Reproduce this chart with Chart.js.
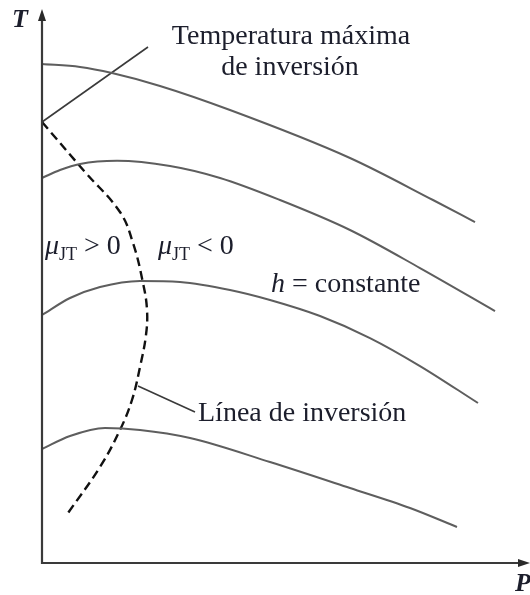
<!DOCTYPE html>
<html>
<head>
<meta charset="utf-8">
<script src="https://cdn.jsdelivr.net/npm/chart.js@4"></script>
<style>
  html, body { margin: 0; padding: 0; background: #fff; }
  canvas { display: block; }
</style>
</head>
<body>
<canvas id="c" width="530" height="595"></canvas>
<script>
// Isenthalpic curves on a T–P diagram (schematic units 0–100 on both axes)
const h1P = [0, 7.79, 14.34, 24.18, 38.52, 63.11, 80.12, 88.73];
const h1T = [90.89, 90.35, 89.25, 86.89, 82.51, 73.77, 66.12, 62.11];

const h2P = [0, 3.69, 7.79, 15.37, 26.23, 36.48, 48.77, 63.11, 77.46, 92.83];
const h2T = [70.13, 71.58, 72.68, 73.25, 72.31, 70.13, 66.12, 60.66, 53.73, 45.90];

const h3P = [0, 5.74, 11.89, 20.08, 28.28, 38.52, 46.72, 56.97, 67.21, 77.46, 89.34];
const h3T = [45.17, 48.27, 50.27, 51.37, 51.18, 49.73, 47.91, 44.99, 40.98, 35.88, 29.14];

const h4P = [0, 5.74, 12.91, 20.08, 30.33, 46.72, 63.11, 75.41, 85.04];
const h4T = [20.77, 23.13, 24.59, 24.23, 22.77, 18.40, 13.66, 10.02, 6.56];

// Inversion line (locus of the maxima), from the maximum inversion temperature downwards
const invP = [0, 8.81, 15.98, 18.65, 20.70, 21.52, 21.31, 20.08, 18.44, 15.98, 11.89, 5.33];
const invT = [80.33, 71.22, 63.93, 58.29, 51.00, 46.08, 41.53, 35.70, 29.69, 24.23, 17.49, 9.11];

// Leader lines for the annotations
const leaderMaxP = [0, 21.72];
const leaderMaxT = [80.33, 93.99];
const leaderInvP = [19.67, 31.35];
const leaderInvT = [32.24, 27.50];

// Text
const axisLabelT = 'T';
const axisLabelP = 'P';
const noteMaxTemp = ['Temperatura máxima', 'de inversión'];
const noteInvLine = 'Línea de inversión';
const noteEnthalpy = ['h', ' = constante'];
const muPositive = ' > 0';
const muNegative = ' < 0';

const pts = (xs, ys) => xs.map((x, i) => ({ x, y: ys[i] }));

const curveStyle = {
  showLine: true, borderColor: '#5e5e5e', borderWidth: 2,
  pointRadius: 0, cubicInterpolationMode: 'monotone', fill: false, clip: false
};

const datasets = [
  { ...curveStyle, data: pts(h1P, h1T) },
  { ...curveStyle, data: pts(h2P, h2T) },
  { ...curveStyle, data: pts(h3P, h3T) },
  { ...curveStyle, data: pts(h4P, h4T) },
  { showLine: true, borderColor: '#111', borderWidth: 2.4, borderDash: [9, 5],
    pointRadius: 0, tension: 0.4, fill: false, clip: false, data: pts(invP, invT) },
  { showLine: true, borderColor: '#3a3a3a', borderWidth: 1.6, pointRadius: 0,
    tension: 0, clip: false, data: pts(leaderMaxP, leaderMaxT) },
  { showLine: true, borderColor: '#3a3a3a', borderWidth: 1.6, pointRadius: 0,
    tension: 0, clip: false, data: pts(leaderInvP, leaderInvT) }
];

// Axes with arrowheads
const axesPlugin = {
  id: 'arrowAxes',
  afterDatasetsDraw(chart) {
    const { ctx, scales: { x, y } } = chart;
    const x0 = x.getPixelForValue(0), y0 = y.getPixelForValue(0);
    const xEnd = x.getPixelForValue(100), yEnd = y.getPixelForValue(100) - 5;
    ctx.save();
    ctx.strokeStyle = '#3a3a3a';
    ctx.fillStyle = '#2a2a2a';
    ctx.lineWidth = 2.2;
    ctx.beginPath();
    ctx.moveTo(x0, yEnd + 6);
    ctx.lineTo(x0, y0);
    ctx.lineTo(xEnd - 6, y0);
    ctx.stroke();
    // up arrow
    ctx.beginPath();
    ctx.moveTo(x0, yEnd);
    ctx.lineTo(x0 - 4, yEnd + 12);
    ctx.lineTo(x0 + 4, yEnd + 12);
    ctx.closePath();
    ctx.fill();
    // right arrow
    ctx.beginPath();
    ctx.moveTo(xEnd, y0);
    ctx.lineTo(xEnd - 12, y0 - 4);
    ctx.lineTo(xEnd - 12, y0 + 4);
    ctx.closePath();
    ctx.fill();
    ctx.restore();
  }
};

// Annotation text
const SERIF = '"Liberation Serif", "DejaVu Serif", serif';
const labelsPlugin = {
  id: 'annotations',
  afterDraw(chart) {
    const { ctx } = chart;
    ctx.save();
    ctx.fillStyle = '#1c1e2c';
    ctx.textBaseline = 'alphabetic';
    ctx.textAlign = 'left';

    ctx.font = 'italic bold 26px ' + SERIF;
    ctx.fillText(axisLabelT, 12, 27);
    ctx.fillText(axisLabelP, 515, 591);

    ctx.font = '28px ' + SERIF;
    ctx.textAlign = 'center';
    ctx.fillText(noteMaxTemp[0], 291, 44);
    ctx.fillText(noteMaxTemp[1], 290, 75);
    ctx.textAlign = 'left';
    ctx.fillText(noteInvLine, 198, 421);

    // h = constante
    ctx.font = 'italic 28px ' + SERIF;
    ctx.fillText(noteEnthalpy[0], 271, 292);
    const hw = ctx.measureText(noteEnthalpy[0]).width;
    ctx.font = '28px ' + SERIF;
    ctx.fillText(noteEnthalpy[1], 271 + hw, 292);

    // μ_JT signs
    const drawMu = (x, base, rest) => {
      ctx.font = 'italic 28px ' + SERIF;
      ctx.fillText('μ', x, base);
      let cx = x + ctx.measureText('μ').width;
      ctx.font = '18px ' + SERIF;
      ctx.fillText('JT', cx, base + 6);
      cx += ctx.measureText('JT').width;
      ctx.font = '28px ' + SERIF;
      ctx.fillText(rest, cx, base);
    };
    drawMu(45, 254, muPositive);
    drawMu(158, 254, muNegative);
    ctx.restore();
  }
};

new Chart(document.getElementById('c').getContext('2d'), {
  type: 'scatter',
  data: { datasets },
  options: {
    responsive: false,
    animation: false,
    layout: { padding: { left: 42, right: 0, top: 14, bottom: 32 } },
    plugins: { legend: { display: false }, tooltip: { enabled: false } },
    scales: {
      x: { type: 'linear', min: 0, max: 100, display: false },
      y: { type: 'linear', min: 0, max: 100, display: false }
    }
  },
  plugins: [axesPlugin, labelsPlugin]
});
</script>
</body>
</html>
